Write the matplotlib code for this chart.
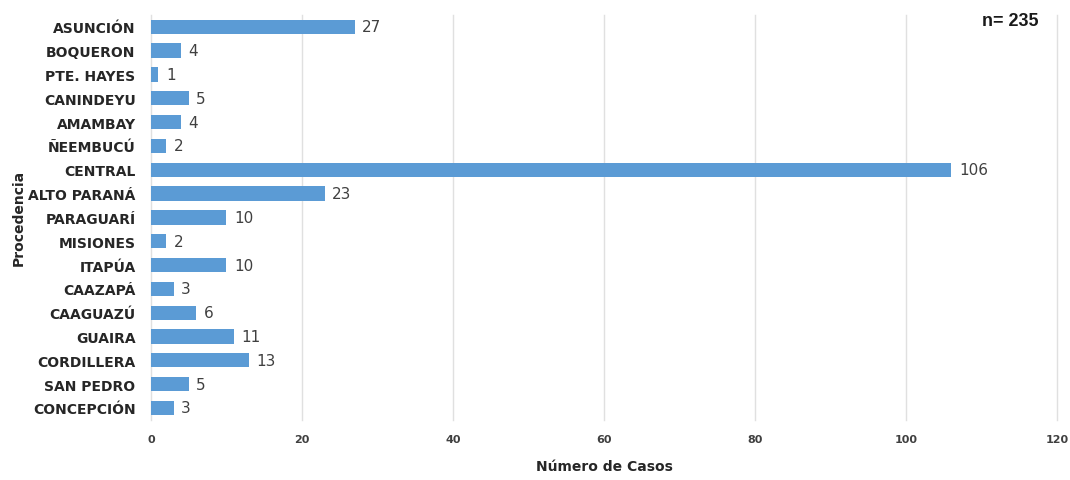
import numpy as np
import matplotlib.pyplot as plt

# departamentos, de arriba hacia abajo
departamentos = ['ASUNCIÓN', 'BOQUERON', 'PTE. HAYES', 'CANINDEYU', 'AMAMBAY',
                 'ÑEEMBUCÚ', 'CENTRAL', 'ALTO PARANÁ', 'PARAGUARÍ', 'MISIONES',
                 'ITAPÚA', 'CAAZAPÁ', 'CAAGUAZÚ', 'GUAIRA', 'CORDILLERA',
                 'SAN PEDRO', 'CONCEPCIÓN']
casos = [27, 4, 1, 5, 4, 2, 106, 23, 10, 2, 10, 3, 6, 11, 13, 5, 3]
xticks = [0, 20, 40, 60, 80, 100, 120]

fig = plt.figure(figsize=(10.7, 4.81), dpi=100)
ax = fig.add_axes([0.141, 0.125, 0.847, 0.842])

y = np.arange(len(departamentos))
ax.barh(y, casos, height=0.6, color='#5B9BD5', zorder=2)
for yi, v in zip(y, casos):
    ax.text(v + 1.0, yi, str(v), va='center', ha='left', fontsize=11, color='#404040')

ax.set_ylim(len(departamentos) - 0.5, -0.5)
ax.set_xlim(0, 120)
ax.set_xticks(xticks)
ax.set_xticklabels([str(t) for t in xticks], fontsize=8, fontweight='bold', color='#404040')
ax.set_yticks(y)
ax.set_yticklabels(departamentos, fontsize=10, fontweight='bold', color='#262626')
ax.tick_params(axis='both', length=0)
ax.tick_params(axis='x', pad=10)
ax.tick_params(axis='y', pad=11)
ax.grid(axis='x', color='#e0e0e0', linewidth=1, zorder=0)
for line in ax.get_xgridlines():
    line.set_clip_on(False)
for s in ax.spines.values():
    s.set_visible(False)

ax.set_xlabel('Número de Casos', fontsize=10, fontweight='bold', color='#262626', labelpad=11)
ax.set_ylabel('Procedencia', fontsize=10, fontweight='bold', color='#262626', labelpad=2)

fig.text(0.944, 0.955, 'n= 235', fontsize=13, fontweight='bold', family='Liberation Sans',
         ha='center', va='center', color='#1a1a1a')

fig.savefig('out.png', dpi=100)
